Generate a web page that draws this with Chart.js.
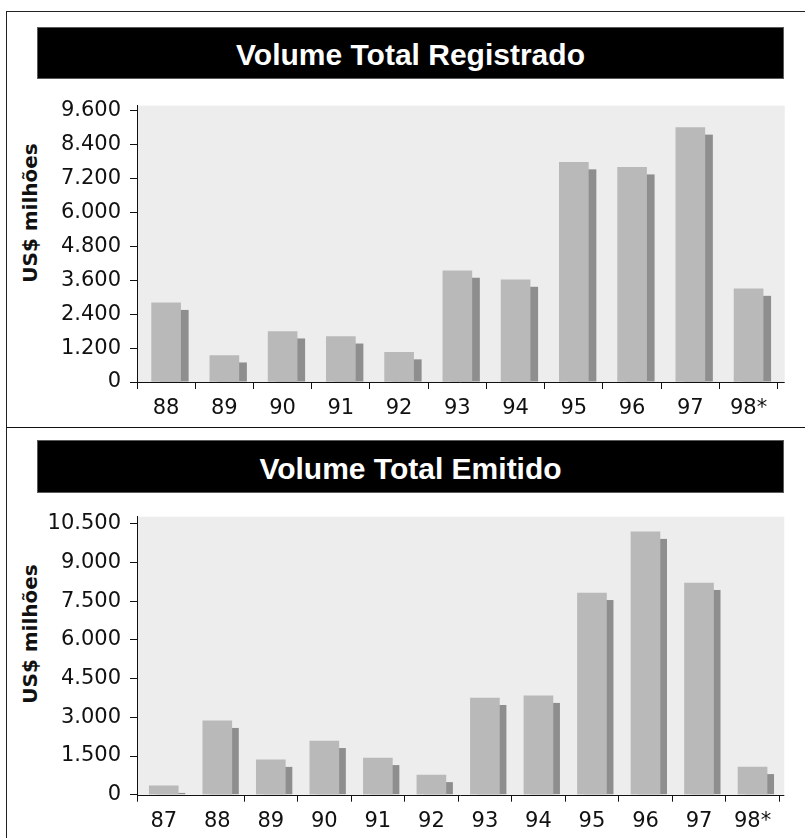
<!DOCTYPE html>
<html>
<head>
<meta charset="utf-8">
<script src="https://cdn.jsdelivr.net/npm/chart.js@4.4.1/dist/chart.umd.min.js"></script>
<style>
  html, body { margin: 0; padding: 0; background: #fff; }
  body { width: 805px; height: 838px; position: relative; overflow: hidden;
         font-family: "Liberation Sans", Arial, sans-serif; }
  .rule { position: absolute; background: #222; }
  .titlebar { position: absolute; left: 37px; width: 747px; box-sizing: border-box;
              background: #000; border: 1px solid #5a5a5a; color: #fff;
              font: bold 30px "Liberation Sans", Arial, sans-serif;
              display: flex; align-items: center; justify-content: center; padding-top: 4px; }
  .ytitle { position: absolute; white-space: nowrap; color: #111;
            font: bold 20px "DejaVu Sans", sans-serif;
            transform: translate(-50%, -50%) rotate(-90deg); }
  .panel { position: absolute; left: 0; }
  canvas { display: block; }
</style>
</head>
<body>
  <div class="rule" style="left:6px; top:11px; width:1px; height:827px;"></div>
  <div class="rule" style="left:6px; top:11px; width:799px; height:1px;"></div>
  <div class="rule" style="left:6px; top:427px; width:799px; height:1px; background:#111;"></div>

  <div class="titlebar" style="top:27px; height:52px;">Volume Total Registrado</div>
  <div class="ytitle" style="left:30px; top:213px;">US$ milhões</div>
  <div class="panel" style="top:84px;"><canvas id="registrado" width="805" height="343"></canvas></div>

  <div class="titlebar" style="top:440px; height:53px;">Volume Total Emitido</div>
  <div class="ytitle" style="left:30px; top:634px;">US$ milhões</div>
  <div class="panel" style="top:494px;"><canvas id="emitido" width="805" height="344"></canvas></div>

<script>
// Volume total registrado (US$ milhões)
const regCategories = ['88', '89', '90', '91', '92', '93', '94', '95', '96', '97', '98*'];
const regValues     = [2800, 940, 1790, 1610, 1050, 3940, 3620, 7780, 7600, 9010, 3300];
const regTicks      = [0, 1200, 2400, 3600, 4800, 6000, 7200, 8400, 9600];
const regMax        = 9790;

// Volume total emitido (US$ milhões)
const emiCategories = ['87', '88', '89', '90', '91', '92', '93', '94', '95', '96', '97', '98*'];
const emiValues     = [340, 2860, 1350, 2080, 1420, 760, 3750, 3830, 7820, 10190, 8210, 1070];
const emiTicks      = [0, 1500, 3000, 4500, 6000, 7500, 9000, 10500];
const emiMax        = 10780;

const TICK_FONT = { family: '"DejaVu Sans", sans-serif', size: 21 };

function thousands(v) {
  return String(v).replace(/\B(?=(\d{3})+(?!\d))/g, '.');
}

// Grey plot panel, the dark "depth" face behind every bar and the base line.
const depthPlugin = {
  id: 'depth',
  beforeDraw(chart, args, opts) {
    const { ctx, chartArea: a } = chart;
    ctx.save();
    ctx.fillStyle = opts.plotColor;
    ctx.fillRect(a.left, a.top, a.right + opts.extend - a.left, a.bottom - a.top);
    ctx.restore();
  },
  beforeDatasetsDraw(chart, args, opts) {
    const { ctx } = chart;
    const meta = chart.getDatasetMeta(0);
    ctx.save();
    ctx.fillStyle = opts.shadowColor;
    meta.data.forEach(bar => {
      const { x, y, base, width } = bar.getProps(['x', 'y', 'base', 'width'], true);
      const top = y + opts.dy;
      if (top >= base) return;
      ctx.fillRect(x - width / 2 + opts.dx, top, width, base - top);
    });
    ctx.restore();
  },
  afterDatasetsDraw(chart, args, opts) {
    const { ctx, chartArea: a } = chart;
    const yb = Math.round(a.bottom) + 0.5;
    ctx.save();
    ctx.strokeStyle = '#111';
    ctx.lineWidth = 1;
    ctx.beginPath();
    ctx.moveTo(a.left, yb);
    ctx.lineTo(a.right + opts.extend, yb);
    ctx.stroke();
    ctx.restore();
  }
};

function buildChart(id, labels, values, ticks, max, cfg) {
  return new Chart(document.getElementById(id), {
    type: 'bar',
    data: {
      labels: labels,
      datasets: [{ data: values, backgroundColor: '#b9b9b9', borderWidth: 0, barThickness: 29 }]
    },
    options: {
      responsive: false,
      animation: false,
      events: [],
      layout: { padding: { left: 0, top: cfg.padTop, right: cfg.padRight, bottom: 0 } },
      plugins: {
        legend: { display: false },
        tooltip: { enabled: false },
        depth: { plotColor: '#ededed', shadowColor: '#8e8e8e', dx: cfg.dx, dy: 7, extend: cfg.extend }
      },
      scales: {
        x: {
          grid: {
            offset: true, drawOnChartArea: false, drawTicks: true, tickLength: 7,
            tickColor: cfg.tickColor || '#111'
          },
          border: { display: false },
          ticks: { font: TICK_FONT, color: '#111', padding: 7, maxRotation: 0, autoSkip: false },
          afterFit(scale) { scale.height = cfg.xHeight; }
        },
        y: {
          min: 0,
          max: max,
          grid: { drawOnChartArea: false, drawTicks: true, tickLength: 7, tickColor: '#111' },
          border: { display: true, color: '#111', width: 1 },
          ticks: { font: TICK_FONT, color: '#111', padding: 9, callback: v => thousands(v) },
          afterBuildTicks(scale) { scale.ticks = ticks.map(v => ({ value: v })); },
          afterFit(scale) { scale.width = 137; }
        }
      }
    },
    plugins: [depthPlugin]
  });
}

buildChart('registrado', regCategories, regValues, regTicks, regMax,
  { padTop: 20, padRight: 27.3, xHeight: 45, dx: 8, extend: 7 });

buildChart('emitido', emiCategories, emiValues, emiTicks, emiMax,
  { padTop: 22.7, padRight: 25.7, xHeight: 43.3, dx: 7, extend: 5,
    tickColor: ctx => (ctx.index === 1 ? 'rgba(0,0,0,0)' : '#111') });
</script>
</body>
</html>
